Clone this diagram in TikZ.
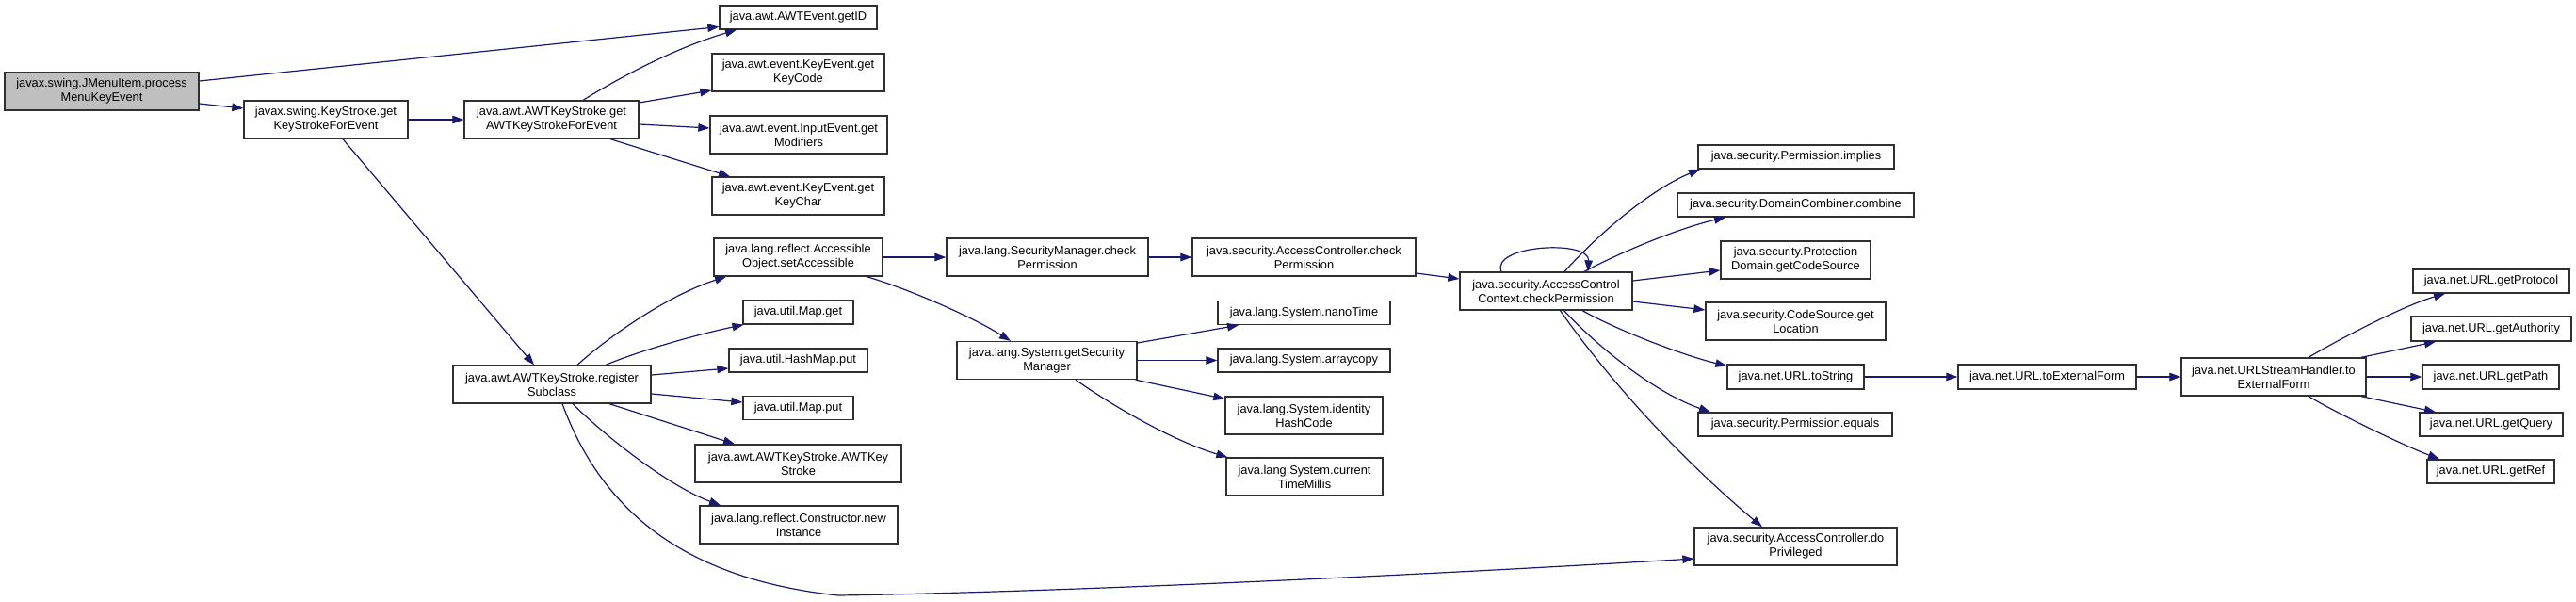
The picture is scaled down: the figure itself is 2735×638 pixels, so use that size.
\documentclass[tikz,border=0pt]{standalone}
\usepackage{fontspec}
\setmainfont{Liberation Sans}
\usetikzlibrary{arrows.meta,calc}
\definecolor{edgecol}{HTML}{191970}
\definecolor{rootfill}{HTML}{BFBFBF}
\definecolor{bordercol}{HTML}{303030}
\tikzset{
  box/.style={draw=bordercol, line width=1.3pt, fill=white, inner sep=0pt, align=center,
    font=\fontsize{12.8}{15}\selectfont},
  rootbox/.style={box, fill=rootfill},
  call/.style={draw=edgecol, line width=1.2pt, -{Triangle[length=12pt,width=8.5pt]}, color=edgecol},
}
\begin{document}
\begin{tikzpicture}[x=1pt,y=-1pt]
\useasboundingbox[fill=white] (0,0) rectangle (2735,638);
% nodes
\node[rootbox, minimum width=206pt, minimum height=40pt] (proc) at (108,97) {javax.swing.JMenuItem.process\\MenuKeyEvent};
\node[box, minimum width=174pt, minimum height=40pt] (ks) at (346,127) {javax.swing.KeyStroke.get\\KeyStrokeForEvent};
\node[box, minimum width=185pt, minimum height=40pt] (awtks) at (585.5,127) {java.awt.AWTKeyStroke.get\\AWTKeyStrokeForEvent};
\node[box, minimum width=167pt, minimum height=25pt] (getid) at (847.5,18.5) {java.awt.AWTEvent.getID};
\node[box, minimum width=183pt, minimum height=40pt] (keycode) at (847.5,77) {java.awt.event.KeyEvent.get\\KeyCode};
\node[box, minimum width=188pt, minimum height=40pt] (modifiers) at (848,143) {java.awt.event.InputEvent.get\\Modifiers};
\node[box, minimum width=183pt, minimum height=40pt] (keychar) at (847.5,208) {java.awt.event.KeyEvent.get\\KeyChar};
\node[box, minimum width=179pt, minimum height=40pt] (setacc) at (847.5,273) {java.lang.reflect.Accessible\\Object.setAccessible};
\node[box, minimum width=117pt, minimum height=25pt] (mapget) at (847.5,331.5) {java.util.Map.get};
\node[box, minimum width=147pt, minimum height=25pt] (hashput) at (847.5,382.5) {java.util.HashMap.put};
\node[box, minimum width=117pt, minimum height=25pt] (mapput) at (847.5,433) {java.util.Map.put};
\node[box, minimum width=219pt, minimum height=40pt] (awtkey) at (847.5,492) {java.awt.AWTKeyStroke.AWTKey\\Stroke};
\node[box, minimum width=210pt, minimum height=40pt] (newinst) at (848,557) {java.lang.reflect.Constructor.new\\Instance};
\node[box, minimum width=210pt, minimum height=40pt] (register) at (586,408) {java.awt.AWTKeyStroke.register\\Subclass};
\node[box, minimum width=214pt, minimum height=40pt] (secmgr) at (1112,273) {java.lang.SecurityManager.check\\Permission};
\node[box, minimum width=237pt, minimum height=40pt] (accheck) at (1384.5,273) {java.security.AccessController.check\\Permission};
\node[box, minimum width=191pt, minimum height=40pt] (getsecmgr) at (1111.5,382.5) {java.lang.System.getSecurity\\Manager};
\node[box, minimum width=183pt, minimum height=25pt] (nano) at (1384.5,332) {java.lang.System.nanoTime};
\node[box, minimum width=183pt, minimum height=25pt] (arraycopy) at (1384.5,382.5) {java.lang.System.arraycopy};
\node[box, minimum width=167pt, minimum height=40pt] (identity) at (1384.5,441) {java.lang.System.identity\\HashCode};
\node[box, minimum width=166pt, minimum height=40pt] (current) at (1385,506) {java.lang.System.current\\TimeMillis};
\node[box, minimum width=183pt, minimum height=40pt] (acc) at (1641.5,309) {java.security.AccessControl\\Context.checkPermission};
\node[box, minimum width=208pt, minimum height=25pt] (implies) at (1907,166.5) {java.security.Permission.implies};
\node[box, minimum width=251pt, minimum height=25pt] (combine) at (1906.5,217.5) {java.security.DomainCombiner.combine};
\node[box, minimum width=159pt, minimum height=40pt] (protdom) at (1906.5,276) {java.security.Protection\\Domain.getCodeSource};
\node[box, minimum width=191pt, minimum height=40pt] (codesrc) at (1906.5,341) {java.security.CodeSource.get\\Location};
\node[box, minimum width=145pt, minimum height=26pt] (tostring) at (1906.5,400) {java.net.URL.toString};
\node[box, minimum width=206pt, minimum height=25pt] (permeq) at (1906,450.5) {java.security.Permission.equals};
\node[box, minimum width=215pt, minimum height=40pt] (dopriv) at (1906.5,580) {java.security.AccessController.do\\Privileged};
\node[box, minimum width=189pt, minimum height=26pt] (toext) at (2173.5,400) {java.net.URL.toExternalForm};
\node[box, minimum width=196pt, minimum height=40pt] (ush) at (2414,400) {java.net.URLStreamHandler.to\\ExternalForm};
\node[box, minimum width=166pt, minimum height=25pt] (getprotocol) at (2645,298.5) {java.net.URL.getProtocol};
\node[box, minimum width=170pt, minimum height=26pt] (getauthority) at (2645,349) {java.net.URL.getAuthority};
\node[box, minimum width=145pt, minimum height=26pt] (getpath) at (2644.5,400) {java.net.URL.getPath};
\node[box, minimum width=152pt, minimum height=25pt] (getquery) at (2645,450.5) {java.net.URL.getQuery};
\node[box, minimum width=135pt, minimum height=25pt] (getref) at (2644.5,500.5) {java.net.URL.getRef};
% edges
\draw[call] ([yshift=11]proc.east) -- ([yshift=-10]getid.west);
\draw[call] ([yshift=-13]proc.east) -- ([yshift=12]ks.west);
\draw[call] (ks.east) -- (awtks.west);
\draw[call] ([xshift=18]ks.south) -- ([xshift=-19]register.north);
\draw[call] ([xshift=33.5]awtks.north) .. controls (665,78) and (720,50) .. ([xshift=-65.5]getid.south);
\draw[call] ([yshift=18]awtks.east) -- ([yshift=-19]keycode.west);
\draw[call] ([yshift=-5]awtks.east) -- ([yshift=7]modifiers.west);
\draw[call] ([xshift=62.5]awtks.south) -- ([xshift=-72.5]keychar.north);
\draw[call] ([xshift=27]register.north) .. controls (645,358) and (710,313) .. ([xshift=-76.5]setacc.south);
\draw[call] ([xshift=57]register.north) .. controls (680,372) and (740,355) .. ([xshift=-58]mapget.south);
\draw[call] ([yshift=10]register.east) -- ([yshift=-8.5]hashput.west);
\draw[call] ([yshift=-10]register.east) -- ([yshift=6]mapput.west);
\draw[call] ([xshift=61]register.south) -- ([xshift=-67.5]awtkey.north);
\draw[call] ([xshift=22]register.south) .. controls (650,470) and (715,518) .. ([xshift=-83]newinst.north);
\draw[call] ([xshift=11]register.south) .. controls (640,545) and (730,615) .. (890,632) .. controls (1150,628) and (1550,608) .. ([yshift=-13]dopriv.west);
\draw[call] (setacc.east) -- (secmgr.west);
\draw[call] ([xshift=72.5]setacc.south) .. controls (960,305) and (1030,335) .. ([xshift=-38.5]getsecmgr.north);
\draw[call] (secmgr.east) -- (accheck.west);
\draw[call] ([yshift=-17]accheck.east) -- ([yshift=13]acc.west);
\draw[call] ([yshift=18.5]getsecmgr.east) -- ([xshift=-69.5]nano.south);
\draw[call] (getsecmgr.east) -- (arraycopy.west);
\draw[call] ([xshift=-2]getsecmgr.south east) -- ([yshift=-3]identity.north west);
\draw[call] ([xshift=30.5]getsecmgr.south) .. controls (1180,430) and (1245,468) .. ([xshift=2]current.north west);
\draw[call] ([xshift=-47.5]acc.north) .. controls (1582,260) and (1688,254) .. ([xshift=44.5]acc.north);
\draw[call] ([xshift=19.5]acc.north) .. controls (1700,245) and (1755,200) .. ([xshift=-102]implies.south);
\draw[call] ([xshift=40.5]acc.north) .. controls (1720,268) and (1780,243) .. ([xshift=-74.5]combine.south);
\draw[call] ([yshift=11]acc.east) -- ([yshift=-11]protdom.west);
\draw[call] ([yshift=-11]acc.east) -- ([yshift=12]codesrc.west);
\draw[call] ([xshift=38.5]acc.south) .. controls (1720,352) and (1790,378) .. ([yshift=-2]tostring.north west);
\draw[call] ([xshift=19]acc.south) .. controls (1700,372) and (1760,418) .. ([xshift=-90]permeq.north);
\draw[call] ([xshift=15]acc.south) .. controls (1720,420) and (1800,500) .. ([xshift=-35.5]dopriv.north);
\draw[call] (tostring.east) -- (toext.west);
\draw[call] (toext.east) -- (ush.west);
\draw[call] ([xshift=37]ush.north) .. controls (2480,362) and (2550,325) .. ([xshift=-49]getprotocol.south);
\draw[call] ([xshift=93]ush.north) -- ([xshift=-59]getauthority.south);
\draw[call] (ush.east) -- (getpath.west);
\draw[call] ([xshift=93]ush.south) -- ([xshift=-59]getquery.north);
\draw[call] ([xshift=37]ush.south) .. controls (2480,438) and (2550,472) .. ([xshift=-54.5]getref.north);
\end{tikzpicture}
\end{document}
